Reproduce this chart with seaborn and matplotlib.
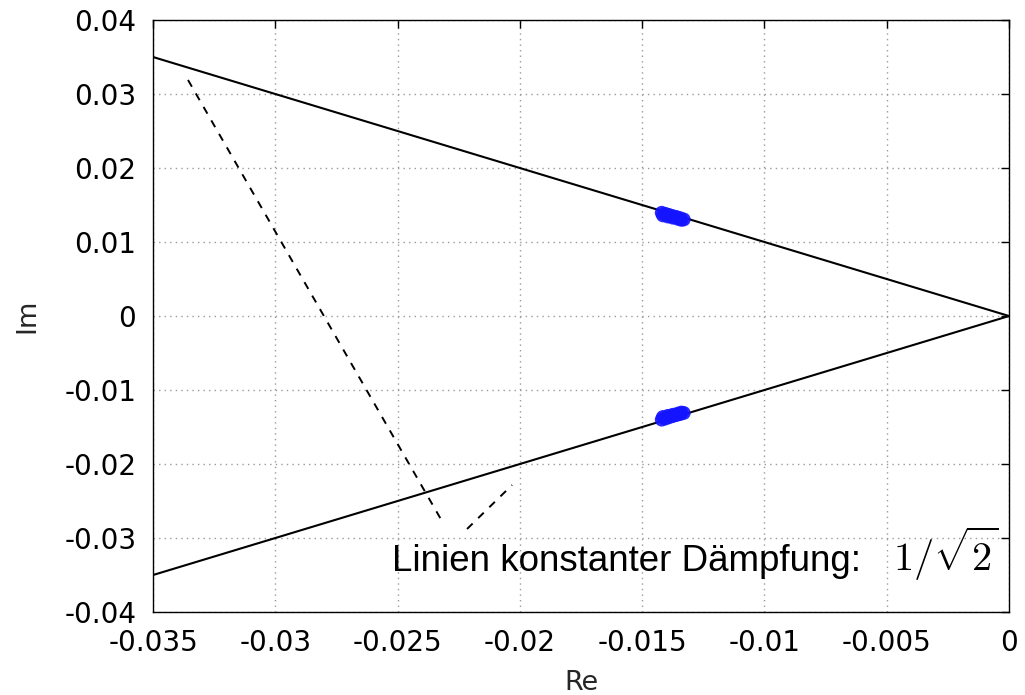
import matplotlib
matplotlib.use("Agg")
import matplotlib.pyplot as plt
import seaborn as sns
import pandas as pd

# Lines of constant damping zeta = 1/sqrt(2) (45 degrees through the origin)
damp_re = [-0.035, 0.0]
damp_im_upper = [0.035, 0.0]
damp_im_lower = [-0.035, 0.0]

# Dashed pointer lines from the annotation
pointer1_re = [-0.03357, -0.02314]
pointer1_im = [0.0319, -0.02797]
pointer2_re = [-0.02216, -0.02032]
pointer2_im = [-0.02878, -0.02284]

# Closed-loop pole locations
pole_re = [-0.01420, -0.01405, -0.01390, -0.01375, -0.01360, -0.01345, -0.01330,
           -0.01415, -0.01395, -0.01375, -0.01355, -0.01340,
           -0.01420, -0.01405, -0.01390, -0.01375, -0.01360, -0.01345, -0.01330,
           -0.01415, -0.01395, -0.01375, -0.01355, -0.01340]
pole_im = [0.01395, 0.01380, 0.01365, 0.01350, 0.01338, 0.01322, 0.01305,
           0.01360, 0.01345, 0.01330, 0.01315, 0.01300,
           -0.01400, -0.01385, -0.01368, -0.01352, -0.01338, -0.01325, -0.01310,
           -0.01365, -0.01350, -0.01335, -0.01320, -0.01305]

x_ticks = [-0.035, -0.03, -0.025, -0.02, -0.015, -0.01, -0.005, 0.0]
x_labels = ["-0.035", "-0.03", "-0.025", "-0.02", "-0.015", "-0.01", "-0.005", "0"]
y_ticks = [-0.04, -0.03, -0.02, -0.01, 0.0, 0.01, 0.02, 0.03, 0.04]
y_labels = ["-0.04", "-0.03", "-0.02", "-0.01", "0", "0.01", "0.02", "0.03", "0.04"]

sns.set_theme(style="white")
plt.rcParams["font.family"] = ["DejaVu Sans"]
plt.rcParams["mathtext.fontset"] = "cm"

fig = plt.figure(figsize=(10.25, 6.95), dpi=100)
ax = fig.add_axes([0.1493, 0.1194, 0.8351, 0.8518])

sns.lineplot(x=damp_re, y=damp_im_upper, ax=ax, color="black", lw=1.5, sort=False)
sns.lineplot(x=damp_re, y=damp_im_lower, ax=ax, color="black", lw=1.5, sort=False)
sns.lineplot(x=pointer1_re, y=pointer1_im, ax=ax, color="black", lw=1.4,
             sort=False, linestyle=(0, (4, 4)))
sns.lineplot(x=pointer2_re, y=pointer2_im, ax=ax, color="black", lw=1.4,
             sort=False, linestyle=(0, (4, 4)))

poles = pd.DataFrame({"Re": pole_re, "Im": pole_im})
sns.scatterplot(data=poles, x="Re", y="Im", ax=ax, color="#1414ff", s=100,
                edgecolor="none", alpha=0.9, zorder=2)

ax.set_xlim(-0.035, 0.0)
ax.set_ylim(-0.04, 0.04)
ax.set_xticks(x_ticks)
ax.set_xticklabels(x_labels)
ax.set_yticks(y_ticks)
ax.set_yticklabels(y_labels)

ax.grid(True, color="#9a9a9a", linestyle=(0, (1, 3)), linewidth=1.0)
ax.set_axisbelow(True)
for sp in ax.spines.values():
    sp.set_visible(True)
    sp.set_color("black")
    sp.set_linewidth(1.0)

ax.tick_params(axis="both", which="major", direction="in", length=6, width=1,
               color="black", labelsize=20, labelcolor="black",
               top=True, right=True, pad=12)

ax.set_xlabel("Re", fontsize=19.5)
ax.set_ylabel("Im", fontsize=19.5)
ax.xaxis.set_label_coords(0.5, -0.098)
ax.yaxis.set_label_coords(-0.132, 0.5)

ax.text(0.279, 0.069, "Linien konstanter Dämpfung:", transform=ax.transAxes,
        fontsize=26.5, family="Liberation Sans", va="baseline", ha="left",
        color="black")
ax.text(0.864, 0.069, r"$1/\sqrt{2}$", transform=ax.transAxes,
        fontsize=29, va="baseline", ha="left", color="black")

fig.savefig("out.png", dpi=100)
